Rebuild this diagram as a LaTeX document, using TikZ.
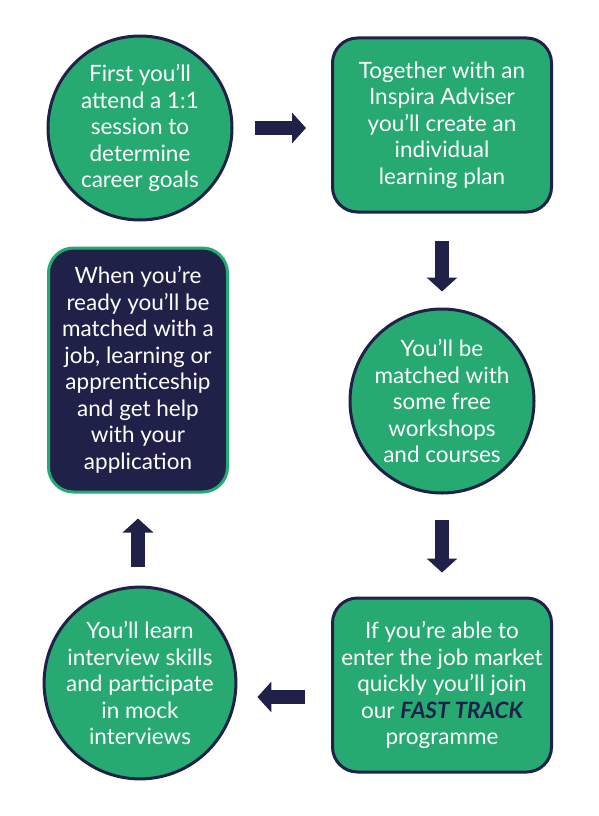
\documentclass[tikz,border=0pt]{standalone}
\usepackage{fontspec}
\setmainfont{Lato}
\usetikzlibrary{arrows.meta,positioning,shapes}
\definecolor{stepgreen}{RGB}{38,170,114}
\definecolor{stepnavy}{RGB}{31,33,72}

\begin{document}
\begin{tikzpicture}[x=1pt,y=-1pt,
  txt/.style={text=white,align=center,font=\fontsize{22.5}{26.5}\selectfont},
  roundstep/.style={draw=stepnavy,circle,line width=3pt,fill=stepgreen,minimum size=184pt,inner sep=0pt,txt},
  boxstep/.style={draw=stepnavy,rectangle,rounded corners=25pt,line width=3pt,fill=stepgreen,minimum width=219pt,minimum height=174pt,txt},
  darkstep/.style={draw=stepgreen,rectangle,rounded corners=25pt,line width=3pt,fill=stepnavy,minimum width=179pt,minimum height=244pt,txt},
  flow/.style={stepnavy,line width=14pt,-{Triangle[length=14pt,width=30pt]}}]
\useasboundingbox (0,0) rectangle (598,816);
\node[roundstep] (s1) at (140,128) {First you’ll\\attend a 1:1\\session to\\determine\\career goals};
\node[boxstep] (s2) at (442,125) {Together with an\\Inspira Adviser\\you’ll create an\\individual\\learning plan};
\node[roundstep] (s3) at (442,401) {You’ll be\\matched with\\some free\\workshops\\and courses};
\node[boxstep] (s4) at (442,685) {If you’re able to\\enter the job market\\quickly you’ll join\\our \textcolor{stepnavy}{\bfseries\itshape FAST TRACK}\\programme};
\node[roundstep] (s5) at (140,683) {You’ll learn\\interview skills\\and participate\\in mock\\interviews};
\node[darkstep] (s6) at (138,370) {When you’re\\ready you’ll be\\matched with a\\job, learning or\\apprenticeship\\and get help\\with your\\application};
\draw[flow,shorten <=21pt,shorten >=25pt] (s1.east) -- (s1.east -| s2.west);
\draw[flow,shorten <=27pt,shorten >=16pt] (s2.south -| s3.north) -- (s3.north);
\draw[flow,shorten <=25pt,shorten >=24pt] (s3.south) -- (s4.north);
\draw[flow,shorten <=26pt,shorten >=20pt] ([yshift=-14pt]s5.east -| s4.west) -- ([yshift=-14pt]s5.east);
\draw[flow,shorten <=19pt,shorten >=25pt] (s5.north -| s6.south) -- (s6.south);
\end{tikzpicture}
\end{document}
